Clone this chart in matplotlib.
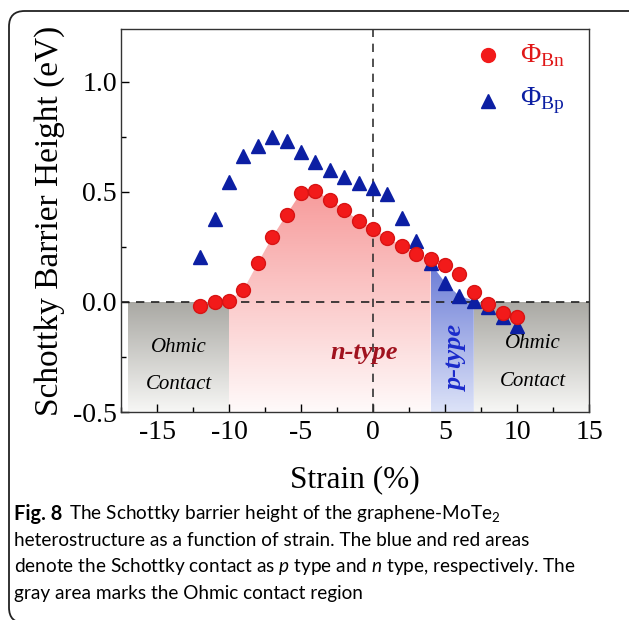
import numpy as np
import matplotlib
matplotlib.use('Agg')
import matplotlib.pyplot as plt
from matplotlib.patches import FancyBboxPatch
from matplotlib.colors import LinearSegmentedColormap

# strain (%) and barrier heights (eV)
strain = [-12, -11, -10, -9, -8, -7, -6, -5, -4, -3, -2, -1, 0,
          1, 2, 3, 4, 5, 6, 7, 8, 9, 10]
phi_bn = [-0.02, 0.00, 0.006, 0.055, 0.176, 0.294, 0.397, 0.497, 0.506, 0.464,
          0.418, 0.370, 0.333, 0.292, 0.255, 0.218, 0.194, 0.168, 0.127, 0.047,
          -0.009, -0.051, -0.070]
phi_bp = [0.206, 0.376, 0.547, 0.664, 0.709, 0.751, 0.732, 0.679, 0.635, 0.600,
          0.567, 0.542, 0.517, 0.491, 0.380, 0.277, 0.176, 0.088, 0.027, 0.006,
          -0.021, -0.067, -0.109]

# region boundaries (strain %)
ohmic_left = (-17, -10)
n_region = (-10, 4)
p_region = (4, 7)
ohmic_right = (7, 15)

caption_lines = [
    'heterostructure as a function of strain. The blue and red areas',
    'denote the Schottky contact as $\\it{p}$ type and $\\it{n}$ type, respectively. The',
    'gray area marks the Ohmic contact region',
]

cap_font = ['Lato', 'DejaVu Sans']
plt.rcParams['font.family'] = ['Liberation Serif', 'DejaVu Serif']
plt.rcParams['mathtext.fontset'] = 'custom'
plt.rcParams['mathtext.rm'] = 'Liberation Serif'
plt.rcParams['mathtext.it'] = 'Lato:italic'
plt.rcParams['mathtext.sf'] = 'Lato'

W, H = 629, 620
fig = plt.figure(figsize=(W / 100, H / 100), dpi=100)

# rounded frame around figure + caption
frame = FancyBboxPatch((9 / W, 1 - 623 / H), 700 / W, (623 - 11) / H,
                       boxstyle='round,pad=0,rounding_size=0.025',
                       transform=fig.transFigure, fill=False,
                       edgecolor='#222222', linewidth=1.3, clip_on=False)
fig.patches.append(frame)

ax = fig.add_axes([121 / W, 1 - 412 / H, (589 - 121) / W, (412 - 29) / H])
ax.set_xlim(-17, 15)
ax.set_ylim(-0.5, 1.24)

x = np.array(strain, dtype=float)
yn = np.array(phi_bn)
yp = np.array(phi_bp)


def gradient_fill(ax, xs, ytop, top_rgb, bot_rgb, y_hi, y_lo=-0.5):
    poly = ax.fill_between(xs, ytop, y_lo, color='none', linewidth=0)
    cmap = LinearSegmentedColormap.from_list('g', [bot_rgb, top_rgb])
    grad = np.linspace(0, 1, 256).reshape(-1, 1)
    im = ax.imshow(grad, cmap=cmap, origin='lower', aspect='auto',
                   extent=[xs[0], xs[-1], y_lo, y_hi], zorder=0.5,
                   interpolation='bilinear')
    im.set_clip_path(poly.get_paths()[0], transform=ax.transData)


# gray Ohmic regions
gradient_fill(ax, np.array(ohmic_left, dtype=float), [0, 0], '#a9a8a3', '#f7f7f5', 0)
gradient_fill(ax, np.array(ohmic_right, dtype=float), [0, 0], '#a9a8a3', '#f7f7f5', 0)

# n-type region under red curve
mask_n = (x >= n_region[0]) & (x <= n_region[1])
gradient_fill(ax, x[mask_n], yn[mask_n], '#f79a9a', '#fffafa', 0.52)

# p-type region under blue curve
mask_p = (x >= p_region[0]) & (x <= p_region[1])
gradient_fill(ax, x[mask_p], yp[mask_p], '#6a7bd6', '#dde3f8', 0.18)

# reference lines
ax.axhline(0, color='#222222', linestyle=(0, (5, 4)), linewidth=1.2, zorder=2)
ax.axvline(0, color='#333333', linestyle=(0, (5, 4)), linewidth=1.2, zorder=2)

# data
ax.plot(x, yp, linestyle='none', marker='^', markersize=10.5,
        color='#0c1fa3', markeredgecolor='#0c1fa3', zorder=3)
ax.plot(x, yn, linestyle='none', marker='o', markersize=10,
        color='#f21a1a', markeredgecolor='#d81414', zorder=4)

# legend by hand
ax.plot([8.0], [1.12], marker='o', markersize=10, color='#f21a1a', clip_on=False)
ax.plot([8.0], [0.915], marker='^', markersize=10, color='#0c1fa3', clip_on=False)
ax.text(10.2, 1.12, r'$\Phi_{\mathrm{Bn}}$', color='#e01818', fontsize=20,
        va='center', ha='left')
ax.text(10.2, 0.915, r'$\Phi_{\mathrm{Bp}}$', color='#0c1fa3', fontsize=20,
        va='center', ha='left')

# region labels
ax.text(-13.5, -0.205, 'Ohmic', style='italic', fontsize=15, ha='center', va='center')
ax.text(-13.5, -0.375, 'Contact', style='italic', fontsize=15, ha='center', va='center')
ax.text(11.1, -0.19, 'Ohmic', style='italic', fontsize=15, ha='center', va='center')
ax.text(11.1, -0.36, 'Contact', style='italic', fontsize=15, ha='center', va='center')
ax.text(-0.6, -0.23, 'n-type', style='italic', weight='bold', fontsize=19,
        color='#a0121e', ha='center', va='center')
ax.text(5.8, -0.255, 'p-type', style='italic', weight='bold', fontsize=19,
        color='#1a2acb', ha='center', va='center', rotation=90)

# axes styling
ax.set_xticks([-15, -10, -5, 0, 5, 10, 15])
ax.set_xticklabels(['-15', '-10', '-5', '0', '5', '10', '15'])
ax.set_yticks([-0.5, 0.0, 0.5, 1.0])
ax.set_yticklabels(['-0.5', '0.0', '0.5', '1.0'])
ax.set_xticks(np.arange(-17.5, 15.1, 2.5), minor=True)
ax.set_yticks([-0.25, 0.25, 0.75], minor=True)
ax.tick_params(which='both', direction='in', top=False, right=False,
               labelsize=20)
ax.tick_params(axis='x', pad=6)
ax.tick_params(axis='y', pad=3)
ax.tick_params(which='major', length=6, width=1)
ax.tick_params(which='minor', length=3.5, width=1)
for s in ax.spines.values():
    s.set_linewidth(1.0)
    s.set_color('#333333')
ax.set_xlabel('Strain (%)', fontsize=22.5, labelpad=14)
ax.set_ylabel('Schottky Barrier Height (eV)', fontsize=24, labelpad=6)

# caption: fit font size so the first full line spans ~516 px like the original
renderer = fig.canvas.get_renderer()
probe = fig.text(0, 0, caption_lines[0], fontsize=13, family=cap_font)
w = probe.get_window_extent(renderer).width
probe.remove()
cap_size = 13 * 516 / w

x0 = 14 / W
head = fig.text(x0, 1 - 514 / H, 'Fig. 8', fontsize=cap_size * 1.05, weight='bold',
                family=cap_font, va='center', ha='left')
hw = head.get_window_extent(renderer).width
fig.text(x0 + (hw + 7) / W, 1 - 514 / H,
         'The Schottky barrier height of the graphene-MoTe$_\\mathsf{2}$',
         fontsize=cap_size, family=cap_font, va='center', ha='left')
for i, line in enumerate(caption_lines):
    fig.text(x0, 1 - (540 + 26.5 * i) / H, line, fontsize=cap_size,
             family=cap_font, va='center', ha='left')

fig.savefig('out.png', dpi=100)
